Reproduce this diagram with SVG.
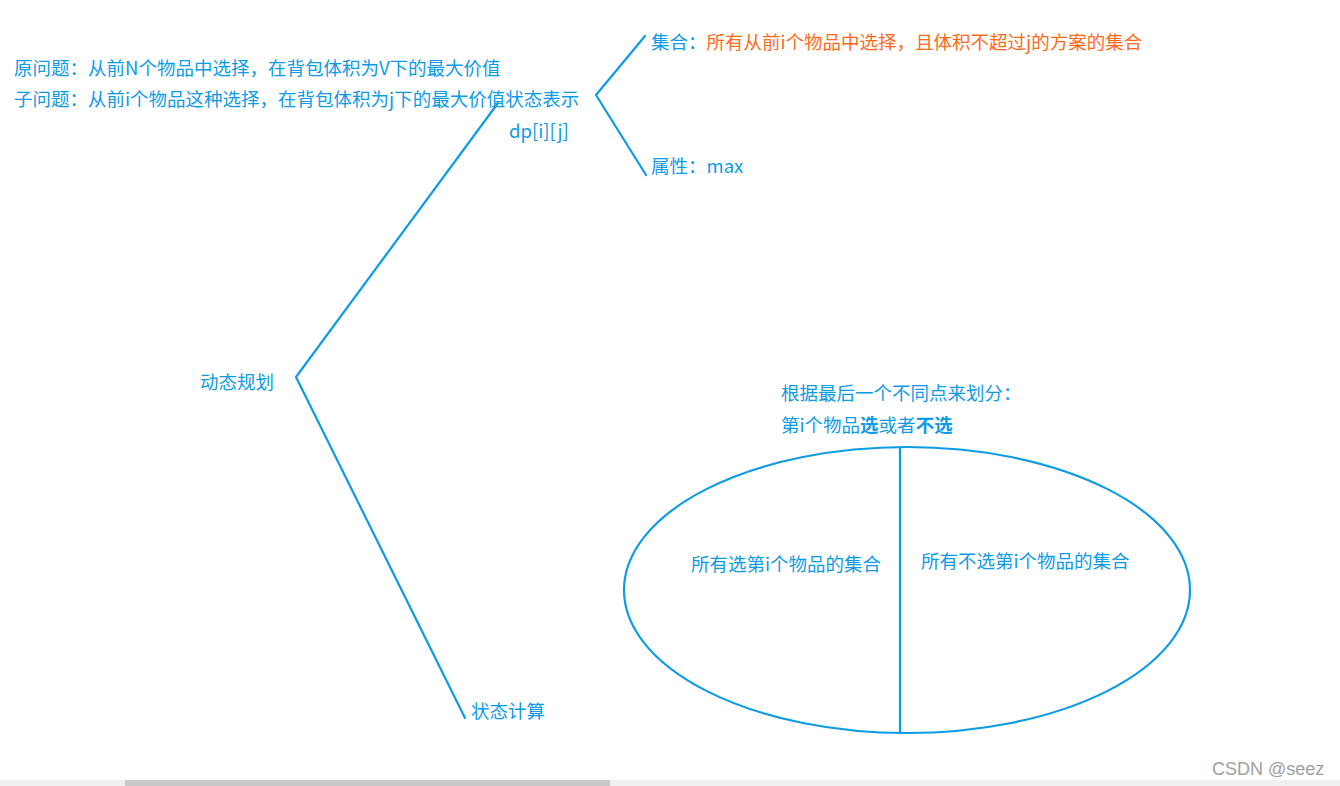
<svg xmlns="http://www.w3.org/2000/svg" width="1340" height="786" viewBox="0 0 1340 786">
<style>
.t{font-family:"Microsoft YaHei","Noto Sans CJK SC","Liberation Sans",sans-serif;font-size:18.5px;fill:#0d9be6}
.o{fill:#ff6a1a}
.b{font-weight:bold}
.ln{stroke:#0d9be6;stroke-width:2.2;fill:none;stroke-linecap:round;stroke-linejoin:round}
.wm{font-family:"Liberation Sans",sans-serif;font-size:18px;fill:#a0a0a0}
</style>
<rect width="1340" height="786" fill="#ffffff"/>
<g id="connectors">
<polyline class="ln" points="498,103 296,377 465,718"/>
<polyline class="ln" points="645,36 596,95 646,175"/>
</g>
<g id="problem">
<text class="t" x="14" y="75">原问题：从前N个物品中选择，在背包体积为V下的最大价值</text>
<text class="t" x="14" y="106">子问题：从前i个物品这种选择，在背包体积为j下的最大价值状态表示</text>
</g>
<g id="dp">
<text class="t" x="509" y="138">dp[i][j]</text>
</g>
<g id="set">
<text class="t" x="651" y="49">集合：<tspan class="o">所有从前i个物品中选择，且体积不超过j的方案的集合</tspan></text>
</g>
<g id="attr">
<text class="t" x="651" y="173">属性：max</text>
</g>
<g id="root">
<text class="t" x="200" y="389">动态规划</text>
</g>
<g id="calc">
<text class="t" x="471" y="718">状态计算</text>
</g>
<g id="divide">
<text class="t" x="781" y="400">根据最后一个不同点来划分：</text>
<text class="t" x="781" y="432">第i个物品<tspan class="b">选</tspan>或者<tspan class="b">不选</tspan></text>
</g>
<g id="ellipse">
<ellipse class="ln" cx="907" cy="590" rx="283" ry="143"/>
<line class="ln" x1="900" y1="447" x2="900" y2="733"/>
<text class="t" x="691" y="571">所有选第i个物品的集合</text>
<text class="t" x="921" y="568">所有不选第i个物品的集合</text>
</g>
<text class="wm" x="1212" y="775">CSDN @seez</text>
<rect x="0" y="780" width="1340" height="6" fill="#f0f0f0"/>
<rect x="125" y="780" width="485" height="6" fill="#c8c8c8"/>
</svg>
